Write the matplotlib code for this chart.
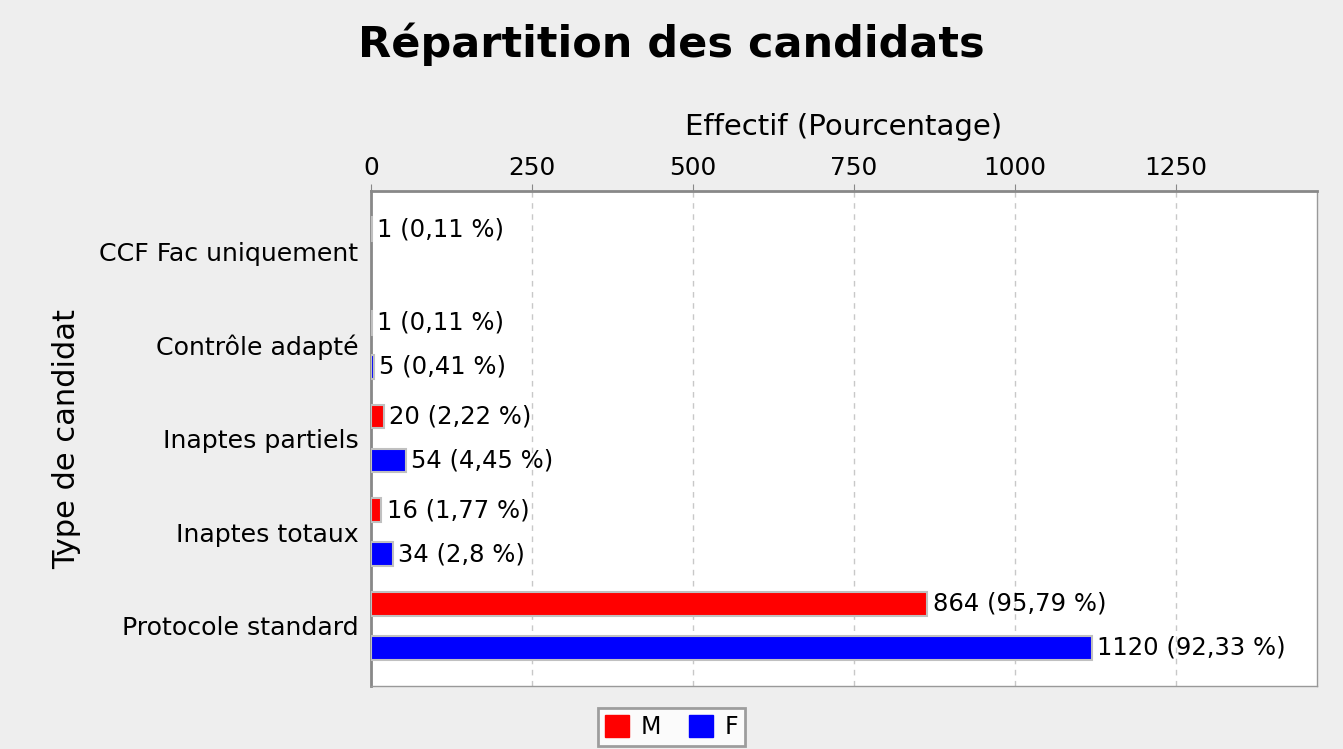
import numpy as np
import matplotlib.pyplot as plt

categories = ["CCF Fac uniquement", "Contrôle adapté", "Inaptes partiels",
              "Inaptes totaux", "Protocole standard"]
m_counts = [1, 1, 20, 16, 864]
m_pct = [0.11, 0.11, 2.22, 1.77, 95.79]
f_counts = [None, 5, 54, 34, 1120]
f_pct = [None, 0.41, 4.45, 2.8, 92.33]
x_ticks = [0, 250, 500, 750, 1000, 1250]

plt.rcParams['font.family'] = ['DejaVu Sans']

fig = plt.figure(figsize=(13.43, 7.49), dpi=100, facecolor='#eeeeee')
ax = fig.add_axes([0.2763, 0.0841, 0.7043, 0.6609])
ax.set_facecolor('white')

y = np.arange(len(categories))
bar_h = 0.255
off = 0.235
series = [(m_counts, m_pct, '#ff0000', -off, 'M'),
          (f_counts, f_pct, '#0000ff', off, 'F')]
for counts, pcts, color, dy, name in series:
    for i, (c, p) in enumerate(zip(counts, pcts)):
        if c is None:
            continue
        ax.barh(y[i] + dy, c, height=bar_h, color=color, edgecolor='#c0c0c0',
                linewidth=1.5, zorder=3)
        txt = f"{c} ({p:g} %)".replace('.', ',')
        ax.text(c + 8, y[i] + dy, txt, va='center', ha='left',
                fontsize=17.5, zorder=4)

ax.set_xlim(0, 1469)
ax.set_ylim(4.645, -0.645)
ax.set_yticks(y)
ax.set_yticklabels(categories, fontsize=18.2)
ax.set_xticks(x_ticks)
ax.xaxis.tick_top()
ax.xaxis.set_label_position('top')
ax.tick_params(axis='x', labelsize=17.8, length=5, color='#888888', pad=3)
ax.tick_params(axis='y', length=0, pad=9)
ax.set_xlabel("Effectif (Pourcentage)", fontsize=21, labelpad=15)
ax.set_ylabel("Type de candidat", fontsize=22, labelpad=13)
ax.grid(axis='x', color='#c8c8c8', linestyle=(0, (4, 4)), linewidth=1, zorder=0)

for side in ['top', 'left']:
    ax.spines[side].set_color('#888888')
    ax.spines[side].set_linewidth(2)
for side in ['bottom', 'right']:
    ax.spines[side].set_color('#999999')
    ax.spines[side].set_linewidth(1)

fig.suptitle("Répartition des candidats", fontsize=31, fontweight='bold',
             x=0.5, y=0.97)

handles = [plt.Rectangle((0, 0), 1, 1, color='#ff0000'),
           plt.Rectangle((0, 0), 1, 1, color='#0000ff')]
leg = fig.legend(handles, ['M', 'F'], loc='lower center', ncol=2,
                 bbox_to_anchor=(0.5, -0.012), fontsize=17, frameon=True,
                 fancybox=False, handlelength=1.0, handleheight=1.0,
                 handletextpad=0.5, columnspacing=1.2, borderpad=0.3,
                 borderaxespad=0.5)
leg.get_frame().set_edgecolor('#888888')
leg.get_frame().set_linewidth(2)

fig.savefig("out.png", dpi=100, facecolor=fig.get_facecolor())
